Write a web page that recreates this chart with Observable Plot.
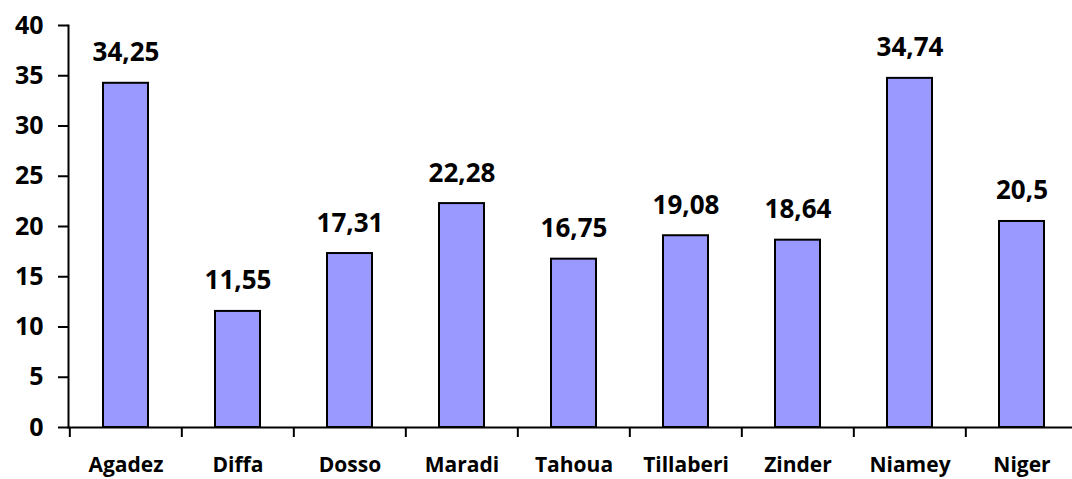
<!DOCTYPE html>
<html>
<head>
<meta charset="utf-8">
<script src="https://cdn.jsdelivr.net/npm/d3@7"></script>
<script src="https://cdn.jsdelivr.net/npm/@observablehq/plot@0.6"></script>
<style>
  html, body { margin: 0; padding: 0; background: #fff; }
  svg { overflow: hidden; }
</style>
</head>
<body>
<div id="chart"></div>
<script>
const categories = ["Agadez", "Diffa", "Dosso", "Maradi", "Tahoua", "Tillaberi", "Zinder", "Niamey", "Niger"];
const values = [34.25, 11.55, 17.31, 22.28, 16.75, 19.08, 18.64, 34.74, 20.5];
const yTicks = [0, 5, 10, 15, 20, 25, 30, 35, 40];

const data = categories.map((c, i) => ({ region: c, value: values[i], label: String(values[i]).replace(".", ",") }));

const W = 1072, H = 479;
const left = 68, step = 112.35;
const font = "'Open Sans', sans-serif";

const chart = Plot.plot({
  width: W,
  height: H,
  marginLeft: left,
  marginRight: 0,
  marginTop: 25,
  marginBottom: 52,
  style: { fontFamily: font, fontWeight: "bold", color: "#000", background: "#fff" },
  x: { domain: categories, range: [left, left + step * categories.length], paddingInner: 0.6, paddingOuter: 0.3 },
  y: { domain: [0, 40] },
  marks: [
    Plot.barY(data, { x: "region", y: "value", fill: "#9999FF", stroke: "#000", strokeWidth: 2 }),
    Plot.ruleY([0], { stroke: "#000", strokeWidth: 2 }),
    Plot.frame({ anchor: "left", stroke: "#000", strokeWidth: 2 }),
    Plot.ruleX(categories, { x: d => d, y1: 0, y2: 0, insetTop: 10, dx: -step / 2, stroke: "#000", strokeWidth: 2 }),
    Plot.axisY({ ticks: yTicks, tickSize: 10, tickPadding: 15, tickFormat: d => String(d), fontSize: 25, fontWeight: "bold", stroke: "#000", strokeWidth: 2, label: null }),
    Plot.axisX({ tickSize: 0, tickPadding: 30, fontSize: 21, fontWeight: "bold", label: null }),
    Plot.text(data, { x: "region", y: "value", text: "label", lineAnchor: "bottom", dy: -22, fontSize: 26, fontWeight: "bold", fill: "#000" })
  ]
});
document.getElementById("chart").appendChild(chart);
</script>
</body>
</html>
